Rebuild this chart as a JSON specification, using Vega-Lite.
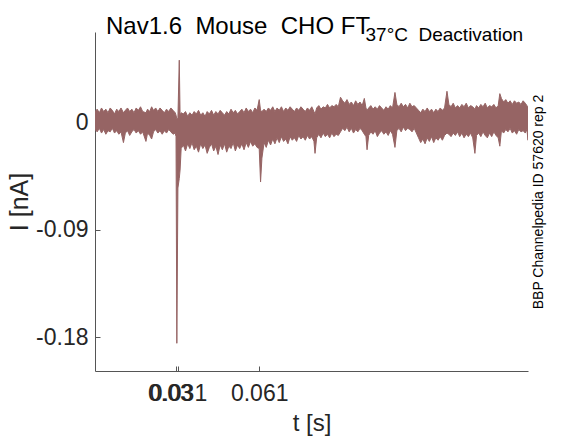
{
  "$schema": "https://vega.github.io/schema/vega-lite/v6.json",
  "width": 433,
  "height": 339,
  "autosize": {"type": "none"},
  "padding": {"left": 95, "top": 32, "right": 55, "bottom": 67},
  "background": "white",
  "config": {"view": {"stroke": null}, "font": "Liberation Sans"},
  "title": {"text": "Nav1.6\u00a0 Mouse\u00a0 CHO FT", "anchor": "start", "frame": "group", "dx": 11, "offset": -33, "baseline": "alphabetic", "fontSize": 24, "fontWeight": "normal", "font": "Liberation Sans", "color": "#000000"},
  "data": {"values": [
    {"t": 0.0004, "hi": 0.009, "lo": -0.006},
    {"t": 0.0012, "hi": 0.011, "lo": -0.008},
    {"t": 0.0020, "hi": 0.008, "lo": -0.005},
    {"t": 0.0028, "hi": 0.012, "lo": -0.009},
    {"t": 0.0036, "hi": 0.009, "lo": -0.006},
    {"t": 0.0044, "hi": 0.011, "lo": -0.010},
    {"t": 0.0052, "hi": 0.008, "lo": -0.007},
    {"t": 0.0060, "hi": 0.012, "lo": -0.008},
    {"t": 0.0068, "hi": 0.010, "lo": -0.005},
    {"t": 0.0076, "hi": 0.007, "lo": -0.009},
    {"t": 0.0084, "hi": 0.011, "lo": -0.007},
    {"t": 0.0092, "hi": 0.009, "lo": -0.010},
    {"t": 0.0100, "hi": 0.012, "lo": -0.008},
    {"t": 0.0109, "hi": 0.008, "lo": -0.017},
    {"t": 0.0116, "hi": 0.010, "lo": -0.009},
    {"t": 0.0124, "hi": 0.012, "lo": -0.007},
    {"t": 0.0132, "hi": 0.009, "lo": -0.011},
    {"t": 0.0140, "hi": 0.011, "lo": -0.008},
    {"t": 0.0148, "hi": 0.008, "lo": -0.006},
    {"t": 0.0156, "hi": 0.012, "lo": -0.009},
    {"t": 0.0164, "hi": 0.010, "lo": -0.007},
    {"t": 0.0172, "hi": 0.013, "lo": -0.010},
    {"t": 0.0180, "hi": 0.009, "lo": -0.008},
    {"t": 0.0192, "hi": 0.008, "lo": -0.016},
    {"t": 0.0198, "hi": 0.011, "lo": -0.009},
    {"t": 0.0206, "hi": 0.009, "lo": -0.011},
    {"t": 0.0213, "hi": 0.013, "lo": -0.014},
    {"t": 0.0220, "hi": 0.010, "lo": -0.008},
    {"t": 0.0228, "hi": 0.012, "lo": -0.006},
    {"t": 0.0236, "hi": 0.009, "lo": -0.009},
    {"t": 0.0244, "hi": 0.012, "lo": -0.007},
    {"t": 0.0252, "hi": 0.010, "lo": -0.010},
    {"t": 0.0260, "hi": 0.008, "lo": -0.007},
    {"t": 0.0268, "hi": 0.011, "lo": -0.009},
    {"t": 0.0276, "hi": 0.009, "lo": -0.006},
    {"t": 0.0284, "hi": 0.012, "lo": -0.008},
    {"t": 0.0292, "hi": 0.010, "lo": -0.010},
    {"t": 0.0300, "hi": 0.008, "lo": -0.009},
    {"t": 0.0303, "hi": 0.006, "lo": -0.012},
    {"t": 0.0306, "hi": 0.003, "lo": -0.185},
    {"t": 0.0310, "hi": 0.004, "lo": -0.055},
    {"t": 0.0315, "hi": 0.052, "lo": -0.047},
    {"t": 0.0318, "hi": 0.006, "lo": -0.040},
    {"t": 0.0322, "hi": 0.008, "lo": -0.022},
    {"t": 0.0330, "hi": 0.007, "lo": -0.019},
    {"t": 0.0338, "hi": 0.009, "lo": -0.024},
    {"t": 0.0346, "hi": 0.005, "lo": -0.018},
    {"t": 0.0354, "hi": 0.008, "lo": -0.022},
    {"t": 0.0362, "hi": 0.006, "lo": -0.017},
    {"t": 0.0370, "hi": 0.009, "lo": -0.023},
    {"t": 0.0378, "hi": 0.007, "lo": -0.020},
    {"t": 0.0386, "hi": 0.010, "lo": -0.025},
    {"t": 0.0394, "hi": 0.006, "lo": -0.018},
    {"t": 0.0402, "hi": 0.008, "lo": -0.022},
    {"t": 0.0410, "hi": 0.005, "lo": -0.019},
    {"t": 0.0418, "hi": 0.009, "lo": -0.026},
    {"t": 0.0426, "hi": 0.007, "lo": -0.021},
    {"t": 0.0434, "hi": 0.010, "lo": -0.018},
    {"t": 0.0442, "hi": 0.006, "lo": -0.024},
    {"t": 0.0450, "hi": 0.009, "lo": -0.020},
    {"t": 0.0458, "hi": 0.007, "lo": -0.027},
    {"t": 0.0466, "hi": 0.010, "lo": -0.019},
    {"t": 0.0474, "hi": 0.008, "lo": -0.023},
    {"t": 0.0482, "hi": 0.006, "lo": -0.018},
    {"t": 0.0490, "hi": 0.009, "lo": -0.025},
    {"t": 0.0498, "hi": 0.007, "lo": -0.020},
    {"t": 0.0506, "hi": 0.011, "lo": -0.022},
    {"t": 0.0514, "hi": 0.008, "lo": -0.017},
    {"t": 0.0522, "hi": 0.010, "lo": -0.024},
    {"t": 0.0530, "hi": 0.007, "lo": -0.019},
    {"t": 0.0538, "hi": 0.009, "lo": -0.022},
    {"t": 0.0546, "hi": 0.011, "lo": -0.018},
    {"t": 0.0554, "hi": 0.008, "lo": -0.023},
    {"t": 0.0562, "hi": 0.012, "lo": -0.017},
    {"t": 0.0570, "hi": 0.009, "lo": -0.021},
    {"t": 0.0578, "hi": 0.011, "lo": -0.016},
    {"t": 0.0586, "hi": 0.008, "lo": -0.020},
    {"t": 0.0594, "hi": 0.012, "lo": -0.018},
    {"t": 0.0602, "hi": 0.010, "lo": -0.021},
    {"t": 0.0610, "hi": 0.019, "lo": -0.022},
    {"t": 0.0615, "hi": 0.010, "lo": -0.050},
    {"t": 0.0620, "hi": 0.009, "lo": -0.030},
    {"t": 0.0628, "hi": 0.011, "lo": -0.017},
    {"t": 0.0636, "hi": 0.009, "lo": -0.021},
    {"t": 0.0644, "hi": 0.012, "lo": -0.015},
    {"t": 0.0652, "hi": 0.010, "lo": -0.019},
    {"t": 0.0660, "hi": 0.013, "lo": -0.014},
    {"t": 0.0668, "hi": 0.009, "lo": -0.018},
    {"t": 0.0676, "hi": 0.012, "lo": -0.013},
    {"t": 0.0684, "hi": 0.010, "lo": -0.017},
    {"t": 0.0692, "hi": 0.013, "lo": -0.012},
    {"t": 0.0700, "hi": 0.009, "lo": -0.016},
    {"t": 0.0708, "hi": 0.012, "lo": -0.014},
    {"t": 0.0716, "hi": 0.010, "lo": -0.018},
    {"t": 0.0724, "hi": 0.013, "lo": -0.012},
    {"t": 0.0732, "hi": 0.011, "lo": -0.015},
    {"t": 0.0740, "hi": 0.009, "lo": -0.013},
    {"t": 0.0748, "hi": 0.012, "lo": -0.016},
    {"t": 0.0756, "hi": 0.010, "lo": -0.011},
    {"t": 0.0764, "hi": 0.013, "lo": -0.014},
    {"t": 0.0772, "hi": 0.011, "lo": -0.012},
    {"t": 0.0780, "hi": 0.009, "lo": -0.015},
    {"t": 0.0788, "hi": 0.012, "lo": -0.011},
    {"t": 0.0796, "hi": 0.010, "lo": -0.014},
    {"t": 0.0804, "hi": 0.013, "lo": -0.012},
    {"t": 0.0812, "hi": 0.009, "lo": -0.016},
    {"t": 0.0816, "hi": 0.007, "lo": -0.026},
    {"t": 0.0822, "hi": 0.012, "lo": -0.013},
    {"t": 0.0830, "hi": 0.014, "lo": -0.010},
    {"t": 0.0838, "hi": 0.011, "lo": -0.013},
    {"t": 0.0846, "hi": 0.013, "lo": -0.009},
    {"t": 0.0854, "hi": 0.012, "lo": -0.012},
    {"t": 0.0862, "hi": 0.015, "lo": -0.010},
    {"t": 0.0870, "hi": 0.012, "lo": -0.013},
    {"t": 0.0878, "hi": 0.014, "lo": -0.009},
    {"t": 0.0886, "hi": 0.013, "lo": -0.012},
    {"t": 0.0894, "hi": 0.015, "lo": -0.010},
    {"t": 0.0902, "hi": 0.013, "lo": -0.011},
    {"t": 0.0910, "hi": 0.021, "lo": -0.008},
    {"t": 0.0918, "hi": 0.018, "lo": -0.005},
    {"t": 0.0926, "hi": 0.016, "lo": -0.007},
    {"t": 0.0934, "hi": 0.019, "lo": -0.004},
    {"t": 0.0942, "hi": 0.015, "lo": -0.008},
    {"t": 0.0950, "hi": 0.017, "lo": -0.005},
    {"t": 0.0958, "hi": 0.014, "lo": -0.009},
    {"t": 0.0966, "hi": 0.018, "lo": -0.006},
    {"t": 0.0974, "hi": 0.015, "lo": -0.008},
    {"t": 0.0982, "hi": 0.017, "lo": -0.005},
    {"t": 0.0990, "hi": 0.014, "lo": -0.007},
    {"t": 0.0998, "hi": 0.020, "lo": -0.010},
    {"t": 0.1004, "hi": 0.012, "lo": -0.012},
    {"t": 0.1008, "hi": 0.010, "lo": -0.023},
    {"t": 0.1014, "hi": 0.012, "lo": -0.011},
    {"t": 0.1022, "hi": 0.014, "lo": -0.008},
    {"t": 0.1030, "hi": 0.011, "lo": -0.010},
    {"t": 0.1038, "hi": 0.013, "lo": -0.007},
    {"t": 0.1046, "hi": 0.011, "lo": -0.012},
    {"t": 0.1054, "hi": 0.014, "lo": -0.009},
    {"t": 0.1062, "hi": 0.012, "lo": -0.007},
    {"t": 0.1070, "hi": 0.010, "lo": -0.010},
    {"t": 0.1078, "hi": 0.013, "lo": -0.008},
    {"t": 0.1086, "hi": 0.011, "lo": -0.011},
    {"t": 0.1094, "hi": 0.014, "lo": -0.007},
    {"t": 0.1102, "hi": 0.012, "lo": -0.010},
    {"t": 0.1111, "hi": 0.025, "lo": -0.021},
    {"t": 0.1118, "hi": 0.015, "lo": -0.007},
    {"t": 0.1126, "hi": 0.013, "lo": -0.005},
    {"t": 0.1134, "hi": 0.016, "lo": -0.008},
    {"t": 0.1142, "hi": 0.013, "lo": -0.004},
    {"t": 0.1150, "hi": 0.015, "lo": -0.007},
    {"t": 0.1158, "hi": 0.012, "lo": -0.005},
    {"t": 0.1166, "hi": 0.016, "lo": -0.006},
    {"t": 0.1174, "hi": 0.013, "lo": -0.008},
    {"t": 0.1182, "hi": 0.014, "lo": -0.005},
    {"t": 0.1190, "hi": 0.012, "lo": -0.009},
    {"t": 0.1198, "hi": 0.010, "lo": -0.013},
    {"t": 0.1206, "hi": 0.008, "lo": -0.017},
    {"t": 0.1214, "hi": 0.011, "lo": -0.014},
    {"t": 0.1222, "hi": 0.009, "lo": -0.018},
    {"t": 0.1230, "hi": 0.012, "lo": -0.013},
    {"t": 0.1238, "hi": 0.009, "lo": -0.016},
    {"t": 0.1246, "hi": 0.011, "lo": -0.012},
    {"t": 0.1254, "hi": 0.008, "lo": -0.017},
    {"t": 0.1262, "hi": 0.011, "lo": -0.013},
    {"t": 0.1270, "hi": 0.009, "lo": -0.015},
    {"t": 0.1278, "hi": 0.012, "lo": -0.012},
    {"t": 0.1286, "hi": 0.010, "lo": -0.015},
    {"t": 0.1294, "hi": 0.012, "lo": -0.011},
    {"t": 0.1303, "hi": 0.026, "lo": -0.009},
    {"t": 0.1310, "hi": 0.015, "lo": -0.010},
    {"t": 0.1318, "hi": 0.013, "lo": -0.012},
    {"t": 0.1326, "hi": 0.016, "lo": -0.009},
    {"t": 0.1334, "hi": 0.012, "lo": -0.011},
    {"t": 0.1342, "hi": 0.014, "lo": -0.008},
    {"t": 0.1350, "hi": 0.012, "lo": -0.012},
    {"t": 0.1358, "hi": 0.015, "lo": -0.009},
    {"t": 0.1366, "hi": 0.013, "lo": -0.013},
    {"t": 0.1374, "hi": 0.016, "lo": -0.010},
    {"t": 0.1382, "hi": 0.012, "lo": -0.012},
    {"t": 0.1390, "hi": 0.014, "lo": -0.009},
    {"t": 0.1398, "hi": 0.013, "lo": -0.013},
    {"t": 0.1406, "hi": 0.011, "lo": -0.026},
    {"t": 0.1412, "hi": 0.014, "lo": -0.011},
    {"t": 0.1420, "hi": 0.012, "lo": -0.009},
    {"t": 0.1428, "hi": 0.015, "lo": -0.012},
    {"t": 0.1436, "hi": 0.013, "lo": -0.008},
    {"t": 0.1444, "hi": 0.016, "lo": -0.011},
    {"t": 0.1452, "hi": 0.012, "lo": -0.013},
    {"t": 0.1460, "hi": 0.014, "lo": -0.009},
    {"t": 0.1468, "hi": 0.013, "lo": -0.012},
    {"t": 0.1476, "hi": 0.015, "lo": -0.008},
    {"t": 0.1484, "hi": 0.012, "lo": -0.011},
    {"t": 0.1492, "hi": 0.014, "lo": -0.013},
    {"t": 0.1498, "hi": 0.024, "lo": -0.020},
    {"t": 0.1504, "hi": 0.020, "lo": -0.007},
    {"t": 0.1512, "hi": 0.017, "lo": -0.009},
    {"t": 0.1520, "hi": 0.019, "lo": -0.006},
    {"t": 0.1528, "hi": 0.016, "lo": -0.008},
    {"t": 0.1536, "hi": 0.018, "lo": -0.005},
    {"t": 0.1544, "hi": 0.015, "lo": -0.009},
    {"t": 0.1552, "hi": 0.018, "lo": -0.007},
    {"t": 0.1560, "hi": 0.016, "lo": -0.010},
    {"t": 0.1568, "hi": 0.017, "lo": -0.006},
    {"t": 0.1576, "hi": 0.015, "lo": -0.008},
    {"t": 0.1584, "hi": 0.018, "lo": -0.007},
    {"t": 0.1592, "hi": 0.016, "lo": -0.009},
    {"t": 0.1598, "hi": 0.014, "lo": -0.006},
    {"t": 0.1602, "hi": 0.013, "lo": -0.015}
  ]},
  "resolve": {"axis": {"x": "independent", "y": "independent"}},
  "layer": [
    {
      "mark": {"type": "area", "color": "#966464", "stroke": "#966464", "strokeWidth": 1, "clip": true},
      "encoding": {
        "x": {"field": "t", "type": "quantitative",
          "scale": {"domain": [0.0004, 0.1602], "nice": false, "zero": false},
          "axis": {"orient": "bottom", "values": [0.0304, 0.031, 0.061],
            "labelExpr": "datum.value < 0.0307 ? '0.03\u00a0\u00a0\u200b' : format(datum.value, '.3f')",
            "labelFont": "Liberation Sans", "labelFontSize": 23, "labelColor": "#262626",
            "labelOverlap": false, "labelFlush": false, "labelPadding": 16,
            "tickSize": -5, "tickColor": "#555555", "domainColor": "#555555", "grid": false,
            "title": "t [s]", "titleFont": "Liberation Sans", "titleFontSize": 24, "titleFontWeight": "normal", "titleColor": "#262626",
            "titleX": 216.5, "titleY": 59, "titleAlign": "center", "titleBaseline": "alphabetic"}},
        "y": {"field": "hi", "type": "quantitative",
          "scale": {"domain": [-0.2082, 0.0756], "nice": false, "zero": false},
          "axis": {"orient": "left", "values": [-0.18, -0.09, 0],
            "labelExpr": "datum.value == 0 ? '0' : '-' + format(-datum.value, '.2f')",
            "labelFont": "Liberation Sans", "labelFontSize": 23, "labelColor": "#262626",
            "labelOverlap": false, "labelFlush": false, "labelPadding": 12,
            "tickSize": -5, "tickColor": "#555555", "domainColor": "#555555", "grid": false,
            "title": "I [nA]", "titleFont": "Liberation Sans", "titleFontSize": 25, "titleFontWeight": "normal", "titleColor": "#262626",
            "titleAngle": 270, "titleX": -68, "titleY": 169.5, "titleAlign": "center", "titleBaseline": "alphabetic"}},
        "y2": {"field": "lo"}
      }
    },
    {
      "mark": {"type": "area", "opacity": 0},
      "encoding": {
        "x": {"field": "t", "type": "quantitative",
          "axis": {"orient": "top", "domain": false, "ticks": false, "labels": false, "grid": false,
            "title": "37°C\u00a0 Deactivation", "titleFont": "Liberation Sans", "titleFontSize": 19, "titleFontWeight": "normal", "titleColor": "#000000",
            "titleX": 270, "titleY": 8, "titleAlign": "left", "titleBaseline": "alphabetic", "titleAngle": 0}},
        "y": {"field": "hi", "type": "quantitative",
          "axis": {"orient": "right", "domain": false, "ticks": false, "labels": false, "grid": false,
            "title": "BBP Channelpedia ID 57620 rep 2", "titleFont": "Liberation Sans", "titleFontSize": 14, "titleFontWeight": "normal", "titleColor": "#000000",
            "titleAngle": 270, "titleX": 14, "titleY": 169.5, "titleAlign": "center", "titleBaseline": "alphabetic"}},
        "y2": {"field": "lo"}
      }
    }
  ]
}
